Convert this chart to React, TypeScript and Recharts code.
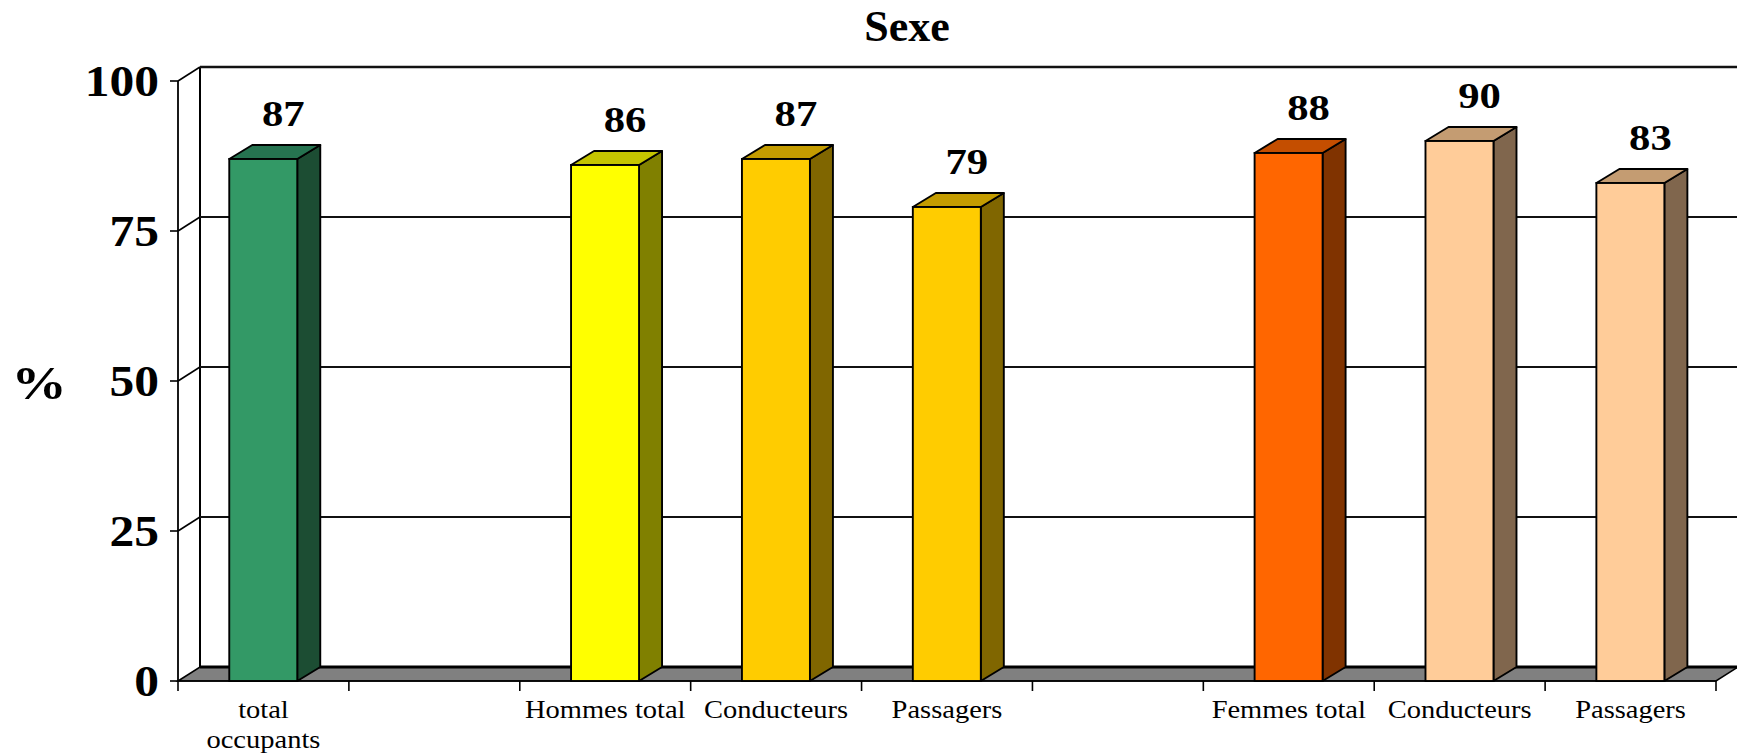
import React from 'react';
import { BarChart, Bar, XAxis, YAxis, CartesianGrid, LabelList } from 'recharts';

const title = 'Sexe';
const yAxisTitle = '%';
const categoryIds = ['c0', 'c1', 'c2', 'c3', 'c4', 'c5', 'c6', 'c7', 'c8'];
const categoryLabels = [
  ['total', 'occupants'],
  [],
  ['Hommes total'],
  ['Conducteurs'],
  ['Passagers'],
  [],
  ['Femmes total'],
  ['Conducteurs'],
  ['Passagers'],
];
const values: (number | null)[] = [87, null, 86, 87, 79, null, 88, 90, 83];
const yTicks = [0, 25, 50, 75, 100];

const frontColors = ['#339966', '#ffffff', '#FFFF00', '#FFCC00', '#FFCC00', '#ffffff', '#FF6600', '#FFCC99', '#FFCC99'];
const topColors = ['#267350', '#ffffff', '#C4C400', '#C49C00', '#C49C00', '#ffffff', '#C44E00', '#C49C72', '#C49C72'];
const sideColors = ['#1C4D33', '#ffffff', '#808000', '#806600', '#806600', '#ffffff', '#803300', '#80664D', '#80664D'];

const data = categoryIds.map((id, i) => ({ id, value: values[i] }));

const FONT = '"Liberation Serif", "Times New Roman", serif';
const DX = 22;
const DY = -14;
const BDX = 23;
const BDY = -14;

const GridLine = (p: any) => {
  const { x1, y1, x2, y2, index } = p;
  const pts: number[] = Array.isArray(p.horizontalPoints) ? p.horizontalPoints : [];
  const top = typeof p.y === 'number' ? p.y : pts.length ? Math.min(...pts) : y1;
  const bottom =
    typeof p.y === 'number' && typeof p.height === 'number'
      ? p.y + p.height
      : pts.length
      ? Math.max(...pts)
      : y1;
  const isBottom = Math.abs(y1 - bottom) < 0.6;
  const isTop = Math.abs(y1 - top) < 0.6;
  if (isBottom) {
    return (
      <g key={`gl-${index}`}>
        <line x1={x1 + DX} y1={top + DY} x2={x1 + DX} y2={bottom + DY} stroke="#000" strokeWidth={2} />
        <polygon
          points={`${x1},${y1} ${x2},${y2} ${x2 + DX},${y2 + DY} ${x1 + DX},${y1 + DY}`}
          fill="#808080"
          stroke="#000"
          strokeWidth={1.6}
        />
        <line x1={x1 + DX} y1={y1 + DY} x2={x2 + DX} y2={y2 + DY} stroke="#000" strokeWidth={3} />
        <line x1={x1} y1={y1} x2={x2} y2={y2} stroke="#000" strokeWidth={1.6} />
      </g>
    );
  }
  return (
    <g key={`gl-${index}`}>
      <line x1={x1} y1={y1} x2={x1 + DX} y2={y1 + DY} stroke="#000" strokeWidth={1.6} />
      <line x1={x1 + DX} y1={y1 + DY} x2={x2 + DX} y2={y2 + DY} stroke="#111" strokeWidth={isTop ? 2.4 : 1.9} />
    </g>
  );
};

const Bar3D = (p: any) => {
  const { x, y, width: w, height: h } = p;
  if (h == null || !isFinite(h) || h <= 0 || !isFinite(y)) return null;
  const id = p.payload && p.payload.id;
  let i = categoryIds.indexOf(id);
  if (i < 0) i = 0;
  return (
    <g>
      <polygon
        points={`${x + w},${y} ${x + w + BDX},${y + BDY} ${x + w + BDX},${y + h + BDY} ${x + w},${y + h}`}
        fill={sideColors[i]}
        stroke="#000"
        strokeWidth={1.9}
        strokeLinejoin="round"
      />
      <polygon
        points={`${x},${y} ${x + w},${y} ${x + w + BDX},${y + BDY} ${x + BDX},${y + BDY}`}
        fill={topColors[i]}
        stroke="#000"
        strokeWidth={1.9}
        strokeLinejoin="round"
      />
      <rect x={x} y={y} width={w} height={h} fill={frontColors[i]} stroke="#000" strokeWidth={1.9} />
    </g>
  );
};

const ValueLabel = (p: any) => {
  const { x, y, width, value } = p;
  if (value == null || !isFinite(Number(x)) || !isFinite(Number(y))) return null;
  const cx = Number(x) + Number(width) / 2 + 20;
  const by = Number(y) - 33;
  return (
    <text
      transform={`translate(${cx},${by}) scale(1.22,1)`}
      textAnchor="middle"
      fontFamily={FONT}
      fontWeight="bold"
      fontSize={35}
      fill="#000"
    >
      {value}
    </text>
  );
};

const XTick = (p: any) => {
  const { x, y, payload, index, visibleTicksCount, width } = p;
  let half = payload && typeof payload.offset === 'number' && payload.offset > 0 ? payload.offset : NaN;
  if (!isFinite(half)) {
    half = typeof width === 'number' && visibleTicksCount ? width / visibleTicksCount / 2 : 85.4;
  }
  const lines = categoryLabels[index] ?? [];
  const last = index === (visibleTicksCount ?? categoryIds.length) - 1;
  return (
    <g>
      <line x1={x - half} y1={y} x2={x - half} y2={y + 10} stroke="#000" strokeWidth={1.6} />
      {last && <line x1={x + half} y1={y} x2={x + half} y2={y + 10} stroke="#000" strokeWidth={1.6} />}
      {lines.map((l, k) => (
        <text
          key={k}
          transform={`translate(${x},${y + 37 + k * 30}) scale(1.14,1)`}
          textAnchor="middle"
          fontFamily={FONT}
          fontSize={25}
          fill="#000"
        >
          {l}
        </text>
      ))}
    </g>
  );
};

const YTick = (p: any) => {
  const { x, y, payload } = p;
  return (
    <text
      transform={`translate(${x},${y + 15}) scale(1.1,1)`}
      textAnchor="end"
      fontFamily={FONT}
      fontWeight="bold"
      fontSize={45}
      fill="#000"
    >
      {payload.value}
    </text>
  );
};

const PercentLabel = (p: any) => {
  const vb = p.viewBox || {};
  const vy = typeof vb.y === 'number' ? vb.y : 81;
  const vh = typeof vb.height === 'number' ? vb.height : 600;
  const vx = typeof vb.x === 'number' ? vb.x : 0;
  return (
    <text
      transform={`translate(${vx + 39},${vy + vh / 2 + 18}) scale(1.2,1)`}
      textAnchor="middle"
      fontFamily={FONT}
      fontWeight="bold"
      fontSize={46}
      fill="#000"
    >
      {yAxisTitle}
    </text>
  );
};

export default function App() {
  return (
    <div style={{ position: 'absolute', left: 0, top: 0, width: 1737, height: 756, background: '#fff', overflow: 'hidden' }}>
      <div
        style={{
          position: 'absolute',
          left: 0,
          top: 5,
          width: 1814,
          textAlign: 'center',
          fontFamily: FONT,
          fontWeight: 'bold',
          fontSize: 44,
          lineHeight: '44px',
          color: '#000',
        }}
      >
        {title}
      </div>
      <BarChart
        width={1737}
        height={756}
        data={data}
        margin={{ top: 81, right: 21, bottom: 0, left: 0 }}
        barCategoryGap="30%"
      >
        <CartesianGrid vertical={false} horizontal={GridLine} />
        <XAxis
          dataKey="id"
          height={75}
          axisLine={false}
          tickLine={false}
          tickSize={0}
          tickMargin={0}
          interval={0}
          tick={(p: any) => <XTick {...p} />}
        />
        <YAxis
          width={178}
          domain={[0, 100]}
          ticks={yTicks}
          interval={0}
          axisLine={{ stroke: '#000', strokeWidth: 1.8 }}
          tickLine={{ stroke: '#000', strokeWidth: 1.6 }}
          tickSize={8}
          tickMargin={11}
          tick={(p: any) => <YTick {...p} />}
          label={{ content: (p: any) => <PercentLabel {...p} /> }}
        />
        <Bar dataKey="value" isAnimationActive={false} shape={(p: any) => <Bar3D {...p} />}>
          <LabelList dataKey="value" content={(p: any) => <ValueLabel {...p} />} />
        </Bar>
      </BarChart>
    </div>
  );
}
